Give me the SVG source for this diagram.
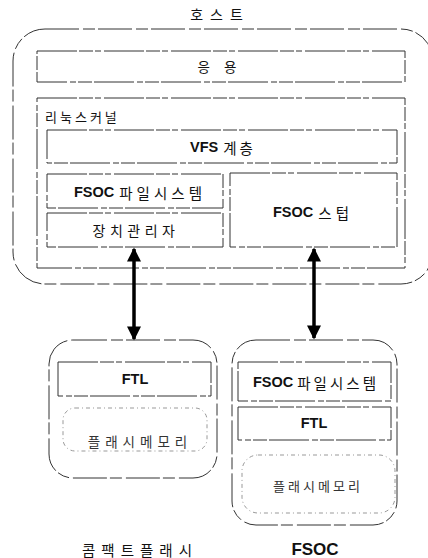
<svg xmlns="http://www.w3.org/2000/svg" width="428" height="558" viewBox="0 0 428 558">
<defs>
<style>
text{font-family:"Noto Sans CJK KR","Liberation Sans",sans-serif;font-size:13.5px;fill:#111;text-anchor:middle;dominant-baseline:central}
.b{font-family:"Liberation Sans","Noto Sans CJK KR",sans-serif;font-weight:bold;font-size:14.5px}
.k{font-family:"Noto Sans CJK KR",sans-serif;font-weight:normal}
.box{fill:#fff;stroke:#333;stroke-width:1;stroke-dasharray:40 2 14 2 6 3}
.outer{fill:none;stroke:#333;stroke-width:1;stroke-dasharray:34 4 12 3}
.mem{fill:none;stroke:#999;stroke-width:1;stroke-dasharray:4 3 1 3}
.arr{stroke:#000;stroke-width:3.5;fill:none}
</style>
<marker id="ah" viewBox="0 0 10 10" refX="9" refY="5" markerWidth="4.6" markerHeight="4" orient="auto-start-reverse" markerUnits="strokeWidth">
<path d="M0,0 L10,5 L0,10 Z" fill="#000"/>
</marker>
</defs>
<rect width="428" height="558" fill="#fff"/>

<g id="host">
<text x="220" y="14" style="letter-spacing:7px;font-size:14px">호스트</text>
<rect class="outer" x="13" y="29" width="420" height="255" rx="32"/>
</g>
<g id="app">
<rect class="box" x="37" y="51" width="368" height="31"/>
<text x="224" y="66" style="letter-spacing:14px">응용</text>
</g>
<g id="kernel">
<rect class="box" x="37" y="98" width="368" height="170"/>
<text x="45" y="116" style="text-anchor:start;letter-spacing:3px;font-size:13px">리눅스커널</text>
</g>
<g id="vfs">
<rect class="box" x="47" y="130" width="350" height="33"/>
<text class="b" x="223" y="147">VFS<tspan class="k" dx="5" style="letter-spacing:3px">계층</tspan></text>
</g>
<g id="fsocfs-host">
<rect class="box" x="47" y="174" width="176" height="34"/>
<text class="b" x="140" y="192">FSOC<tspan class="k" dx="5" style="letter-spacing:4px">파일시스템</tspan></text>
</g>
<g id="devmgr">
<rect class="box" x="47" y="213" width="176" height="34"/>
<text x="136" y="230" style="letter-spacing:4.5px;font-size:14px">장치관리자</text>
</g>
<g id="stub">
<rect class="box" x="230" y="173" width="167" height="74"/>
<text class="b" x="313" y="212">FSOC<tspan class="k" dx="5" style="letter-spacing:4px">스텁</tspan></text>
</g>

<g id="cf">
<rect class="outer" x="49" y="340" width="168" height="138" rx="24"/>
<text x="140" y="549" style="letter-spacing:6px;font-size:14.5px">콤팩트플래시</text>
</g>
<g id="ftl-cf">
<rect class="box" x="58" y="362" width="153" height="34"/>
<text class="b" x="135" y="379">FTL</text>
</g>
<g id="mem-cf">
<rect class="mem" x="63" y="408" width="144" height="43" rx="12"/>
<text x="140" y="441" style="letter-spacing:5px;font-size:13.5px;fill:#333">플래시메모리</text>
</g>

<g id="fsoc">
<rect class="outer" x="232" y="340" width="165" height="185" rx="24"/>
<text class="b" x="315" y="549" style="font-size:17px">FSOC</text>
</g>
<g id="fsocfs-dev">
<rect class="box" x="238" y="362" width="153" height="39"/>
<text class="b" x="316" y="382">FSOC<tspan class="k" dx="4" style="letter-spacing:3px">파일시스템</tspan></text>
</g>
<g id="ftl-fsoc">
<rect class="box" x="238" y="407" width="153" height="33"/>
<text class="b" x="314" y="423">FTL</text>
</g>
<g id="mem-fsoc">
<rect class="mem" x="242" y="455" width="153" height="58" rx="16"/>
<text x="318" y="485" style="letter-spacing:3px;font-size:13px;fill:#333">플래시메모리</text>
</g>

<g id="connectors">
<line class="arr" x1="134" y1="249" x2="134" y2="339" marker-start="url(#ah)" marker-end="url(#ah)"/>
<line class="arr" x1="314" y1="249" x2="314" y2="338" marker-start="url(#ah)" marker-end="url(#ah)"/>
</g>
</svg>
